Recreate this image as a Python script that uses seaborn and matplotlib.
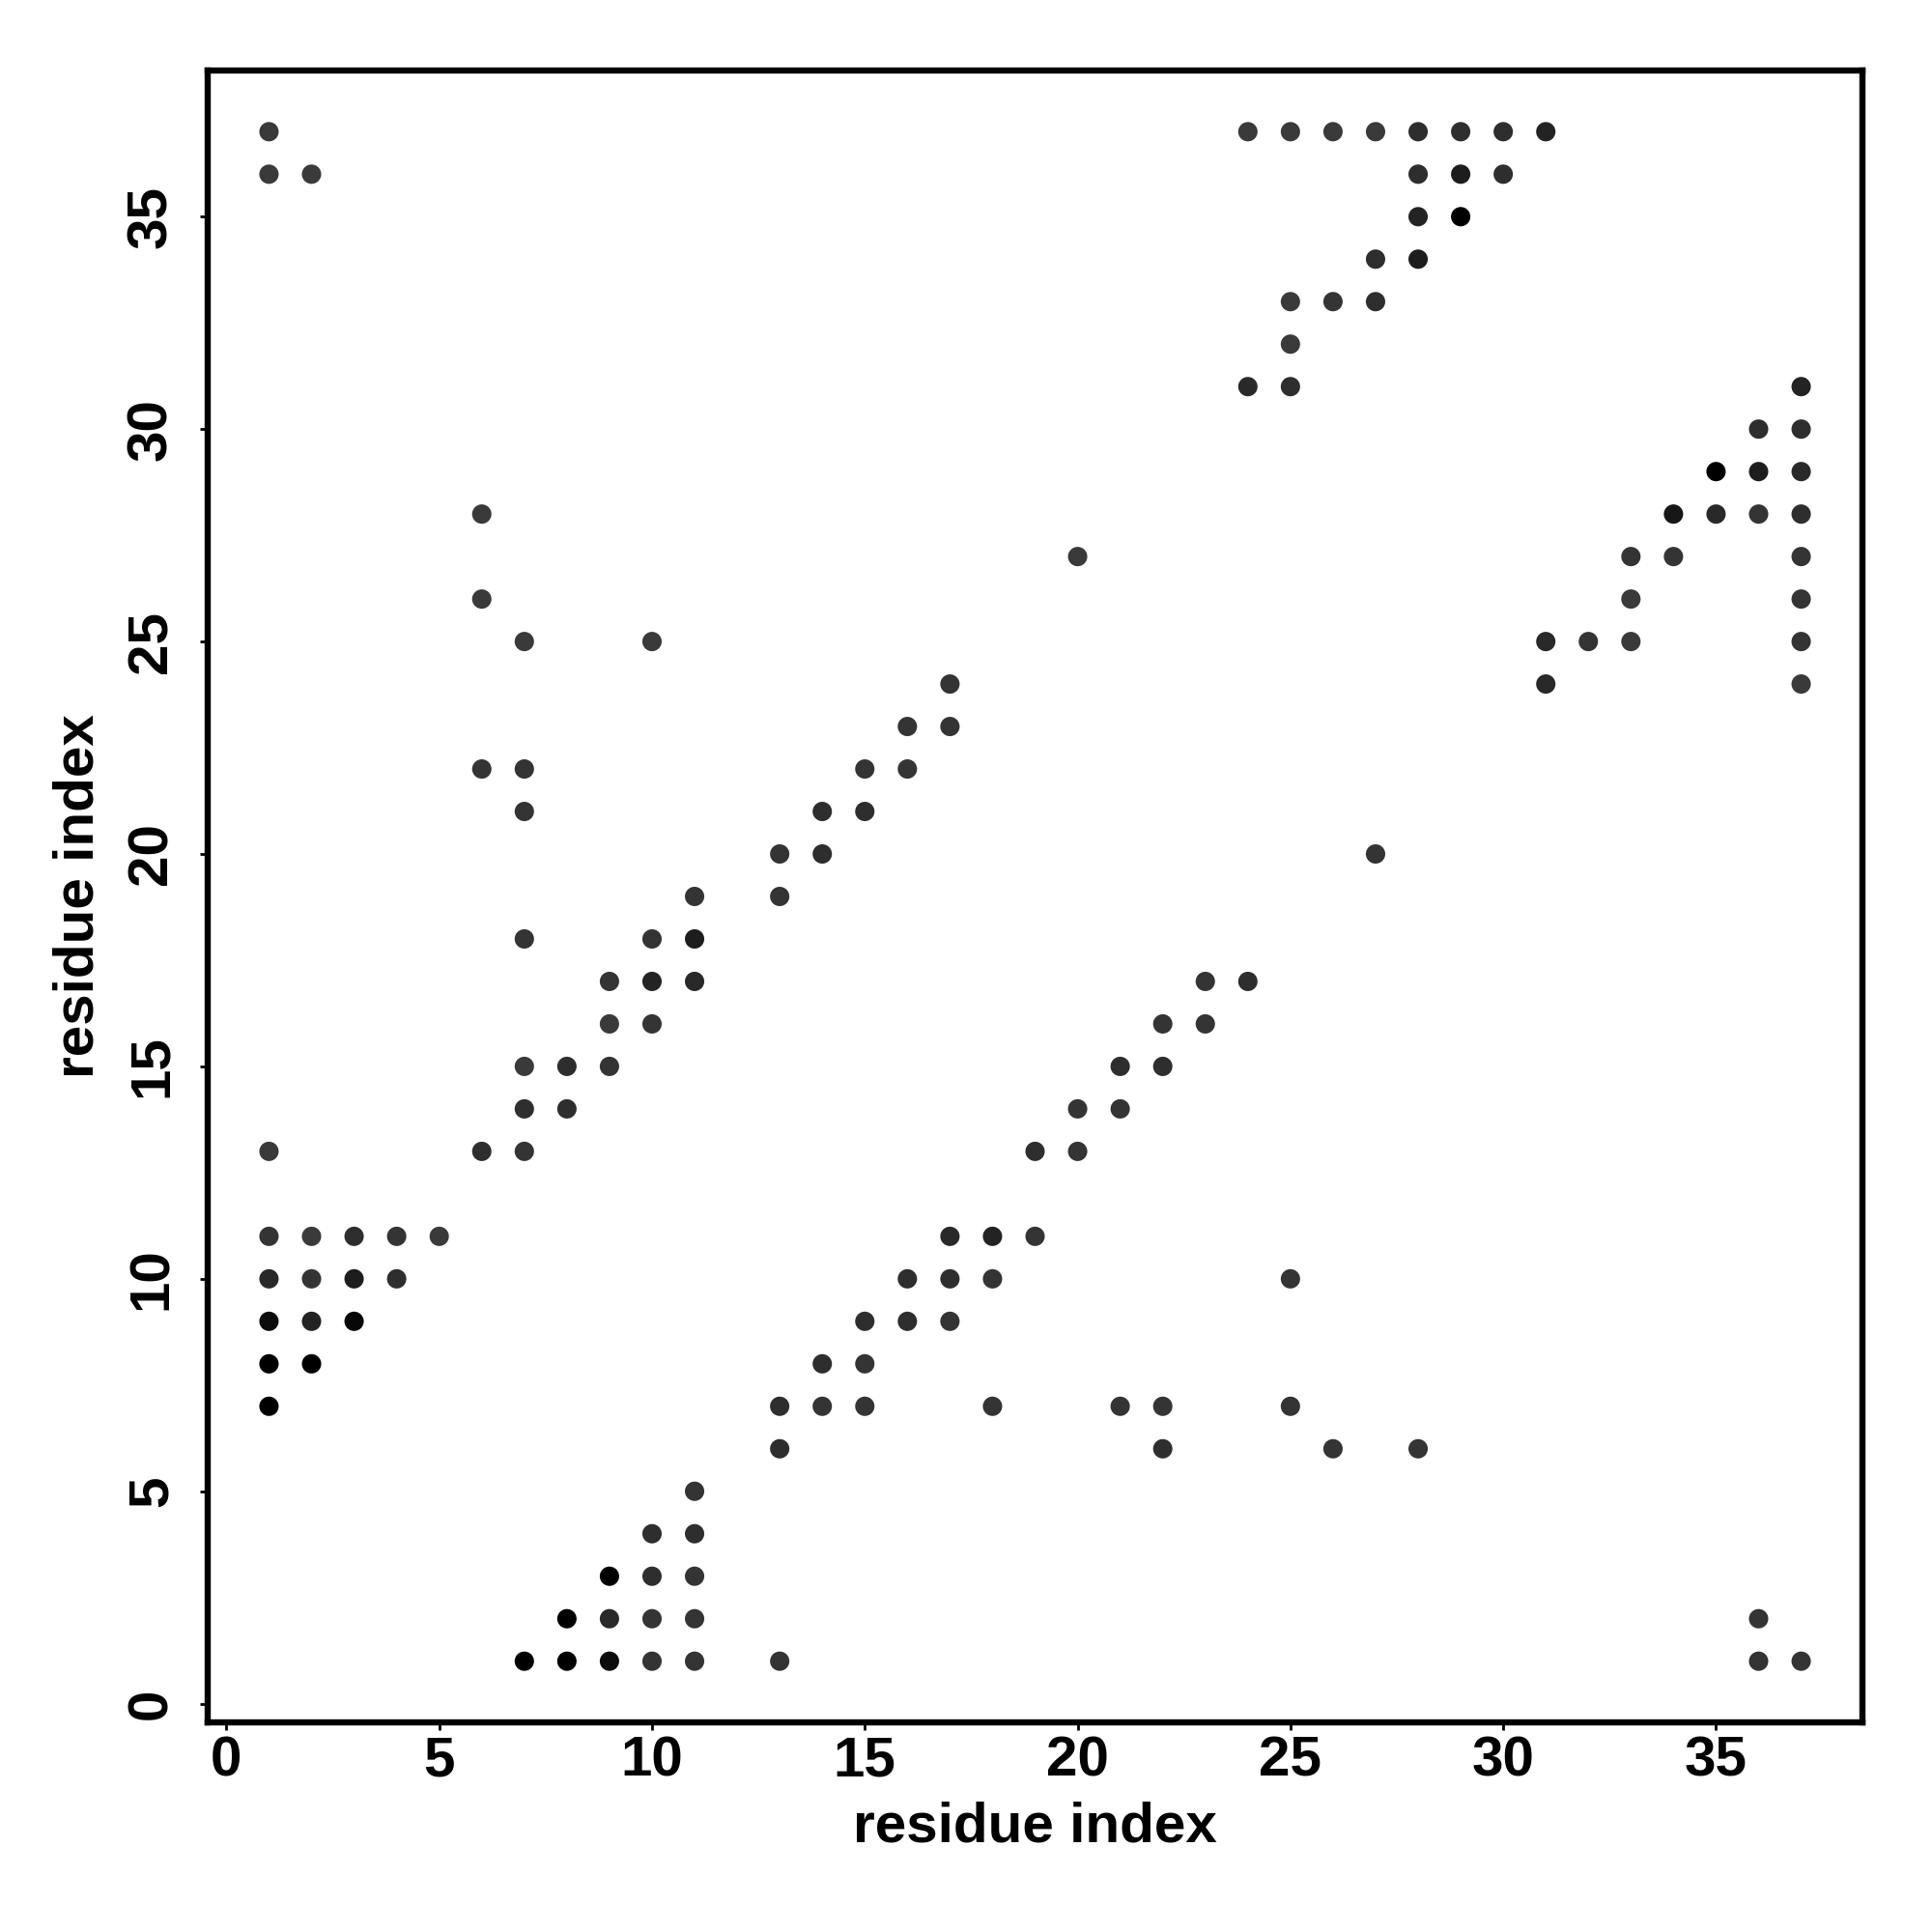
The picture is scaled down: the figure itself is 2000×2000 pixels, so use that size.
import matplotlib
matplotlib.use("Agg")
import matplotlib.pyplot as plt
import numpy as np
import pandas as pd
import seaborn as sns
from matplotlib.colors import LinearSegmentedColormap

# contact pairs (residue i, residue j) and relative contact strength (0 = light, 1 = darkest)
res_i = [
    1, 24, 25, 26, 27, 28, 29, 30, 31,
    1, 2, 28, 29, 30,
    28, 29,
    27, 28,
    25, 26, 27,
    25,
    24, 25, 37,
    36, 37,
    35, 36, 37,
    6, 34, 35, 36, 37,
    20, 33, 34, 37,
    6, 33, 37,
    7, 10, 31, 32, 33, 37,
    17, 31, 37,
    16, 17,
    6, 7, 15, 16,
    7, 14, 15,
    13, 14, 27,
    11, 13,
    7, 10, 11,
    9, 10, 11, 23, 24,
    9, 10, 22, 23,
    7, 8, 9, 21, 22,
    7, 8, 20, 21,
    1, 6, 7, 19, 20,
    1, 2, 3, 4, 5, 17, 18, 19,
    1, 2, 3, 4, 16, 17, 18, 25,
    1, 2, 3, 15, 16, 17,
    1, 2, 14, 15,
    1, 13, 14, 15, 18, 21, 22, 25,
    13, 22, 26, 28,
    11,
    10, 11,
    9, 10, 11,
    8, 9, 10, 11, 36,
    7, 8, 9, 10, 11, 13, 36, 37,
]
res_j = [
    37, 37, 37, 37, 37, 37, 37, 37, 37,
    36, 36, 36, 36, 36,
    35, 35,
    34, 34,
    33, 33, 33,
    32,
    31, 31, 31,
    30, 30,
    29, 29, 29,
    28, 28, 28, 28, 28,
    27, 27, 27, 27,
    26, 26, 26,
    25, 25, 25, 25, 25, 25,
    24, 24, 24,
    23, 23,
    22, 22, 22, 22,
    21, 21, 21,
    20, 20, 20,
    19, 19,
    18, 18, 18,
    17, 17, 17, 17, 17,
    16, 16, 16, 16,
    15, 15, 15, 15, 15,
    14, 14, 14, 14,
    13, 13, 13, 13, 13,
    11, 11, 11, 11, 11, 11, 11, 11,
    10, 10, 10, 10, 10, 10, 10, 10,
    9, 9, 9, 9, 9, 9,
    8, 8, 8, 8,
    7, 7, 7, 7, 7, 7, 7, 7,
    6, 6, 6, 6,
    5,
    4, 4,
    3, 3, 3,
    2, 2, 2, 2, 2,
    1, 1, 1, 1, 1, 1, 1, 1,
]
strength = [
    0, 0, 0, 0, 0, 0.2, 0.2, 0.2, 0.4,
    0, 0, 0.2, 0.5, 0.2,
    0.4, 1,
    0.2, 0.5,
    0, 0.1, 0.2,
    0,
    0.3, 0.2, 0.4,
    0.2, 0.2,
    1, 0.5, 0.3,
    0, 0.6, 0.3, 0.1, 0.2,
    0, 0.1, 0.1, 0.1,
    0, 0, 0.1,
    0, 0, 0.3, 0.1, 0, 0.1,
    0.1, 0.3, 0,
    0.1, 0.1,
    0.1, 0.1, 0.1, 0.1,
    0.1, 0.2, 0.2,
    0.1, 0.2, 0.1,
    0.1, 0.1,
    0.1, 0.1, 0.5,
    0.1, 0.4, 0.3, 0.1, 0.2,
    0, 0.1, 0.1, 0.1,
    0, 0.2, 0.1, 0.2, 0.2,
    0.2, 0.2, 0.1, 0.1,
    0, 0.2, 0.1, 0.2, 0.1,
    0.1, 0, 0.2, 0.1, 0, 0.3, 0.4, 0.1,
    0.3, 0.1, 0.5, 0.2, 0.2, 0.2, 0.1, 0.1,
    0.8, 0.4, 0.9, 0.2, 0.2, 0.1,
    1, 1, 0.2, 0.1,
    1, 0.2, 0.1, 0.1, 0.1, 0.1, 0.1, 0.1,
    0.2, 0.2, 0.1, 0.1,
    0.1,
    0.2, 0.2,
    1, 0.2, 0.1,
    1, 0.3, 0.1, 0.1, 0.1,
    1, 1, 0.8, 0.1, 0.1, 0.1, 0.1, 0.1,
]
tick_values = [0, 5, 10, 15, 20, 25, 30, 35]
axis_label = "residue index"

df = pd.DataFrame({"i": res_i, "j": res_j, "strength": strength})

sns.set_theme(style="white")
plt.rcParams["font.family"] = ["Liberation Sans", "DejaVu Sans"]
plt.rcParams["font.weight"] = "bold"
plt.rcParams["text.color"] = "black"
plt.rcParams["axes.labelcolor"] = "black"
plt.rcParams["xtick.color"] = "black"
plt.rcParams["ytick.color"] = "black"

fig = plt.figure(figsize=(10, 10), dpi=200)
ax = fig.add_axes([0.1075, 0.1085, 0.8565, 0.855])

greys = LinearSegmentedColormap.from_list("contact_greys", ["#3a3a3a", "#000000"])
sns.scatterplot(data=df, x="i", y="j", hue="strength", palette=greys, hue_norm=(0, 1),
                s=52, linewidth=0, legend=False, ax=ax)

# R-style 4% padding around the data range
lo = min(df["i"].min(), df["j"].min())
hi = max(df["i"].max(), df["j"].max())
pad = 0.04 * (hi - lo)
ax.set_xlim(lo - pad, hi + pad)
ax.set_ylim(lo - pad, hi + pad)

ax.set_xticks(tick_values)
ax.set_yticks(tick_values)
ax.set_xticklabels([str(v) for v in tick_values], fontsize=21, fontweight="bold")
ax.set_yticklabels([str(v) for v in tick_values], fontsize=21, fontweight="bold",
                   rotation=90, va="center")
ax.tick_params(axis="both", direction="out", length=3, width=1.0, color="black",
               labelcolor="black", bottom=True, left=True)
ax.tick_params(axis="x", pad=2)
ax.tick_params(axis="y", pad=8)

ax.set_xlabel(axis_label, fontsize=21, fontweight="bold", labelpad=5, color="black")
ax.set_ylabel(axis_label, fontsize=21, fontweight="bold", labelpad=8, color="black")

for sp in ax.spines.values():
    sp.set_visible(True)
    sp.set_color("black")
    sp.set_linewidth(2.3)

fig.savefig("out.png", dpi=200, facecolor="white")
